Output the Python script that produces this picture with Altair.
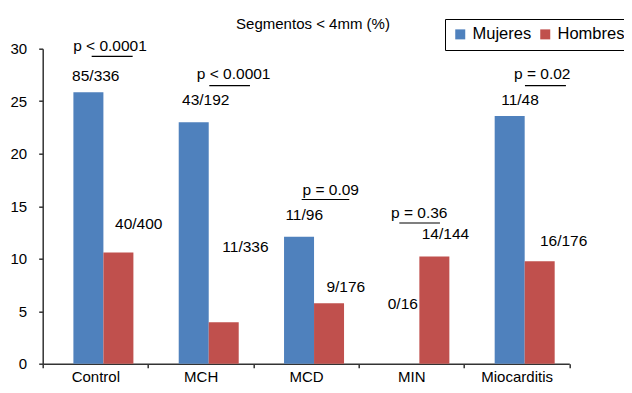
import altair as alt
import pandas as pd

# ---- data ----
categories = ["Control", "MCH", "MCD", "MIN", "Miocarditis"]
series = ["Mujeres", "Hombres"]
mujeres = [25.85, 23.0, 12.1, 0.0, 23.6]
hombres = [10.6, 3.95, 5.75, 10.2, 9.75]

# annotation texts and their places in data units
# (x in category units: 0..5, y in percent)
count_labels = ["85/336", "40/400", "43/192", "11/336", "11/96",
                "9/176", "0/16", "14/144", "11/48", "16/176"]
count_x = [0.504, 0.912, 1.548, 1.925, 2.483, 2.878, 3.419, 3.824, 4.532, 4.946]
count_y = [27.37, 13.3, 25.09, 11.09, 14.2, 7.3, 5.72, 12.36, 25.09, 11.66]

p_labels = ["p < 0.0001", "p < 0.0001", "p = 0.09", "p = 0.36", "p = 0.02"]
p_x = [0.639, 1.813, 2.735, 3.575, 4.743]
p_y = [30.3, 27.58, 16.56, 14.38, 27.58]
line_x1 = [0.465, 1.582, 2.459, 3.386, 4.579]
line_x2 = [0.854, 1.968, 2.911, 3.772, 4.968]
line_y = [29.26, 26.48, 15.64, 13.4, 26.48]

title_text = "Segmentos < 4mm (%)"

# ---- tables ----
bars = pd.DataFrame({
    "cat": categories * 2,
    "sexo": [series[0]] * 5 + [series[1]] * 5,
    "val": mujeres + hombres,
})
counts = pd.DataFrame({"t": count_labels, "x": count_x, "y": count_y})
pvals = pd.DataFrame({"t": p_labels, "x": p_x, "y": p_y})
lines = pd.DataFrame({"x": line_x1, "x2": line_x2, "y": line_y})

FONT = "Liberation Sans"
AX = "#333333"

yscale = alt.Scale(domain=[0, 30], nice=False, zero=True)
xq = alt.Scale(domain=[0, 5], nice=False, zero=False)

bar_layer = alt.Chart(bars).mark_bar().encode(
    x=alt.X("cat:N", sort=categories,
            scale=alt.Scale(paddingInner=0, paddingOuter=0),
            axis=alt.Axis(title=None, labelAngle=0, labelFontSize=15,
                          labelColor="black", labelFont=FONT,
                          tickBand="extent", tickSize=4, tickWidth=1.5,
                          tickColor=AX, domainColor=AX, domainWidth=1.5,
                          labelPadding=2, grid=False)),
    xOffset=alt.XOffset("sexo:N", sort=series,
                        scale=alt.Scale(domain=series, range=[30.7, 90.7],
                                        paddingInner=0, paddingOuter=0)),
    y=alt.Y("val:Q", scale=yscale,
            axis=alt.Axis(title=None, values=[0, 5, 10, 15, 20, 25, 30],
                          labelFontSize=15, labelColor="black", labelFont=FONT,
                          tickSize=4, tickWidth=1.5, tickColor=AX,
                          domainColor=AX, domainWidth=1.5,
                          labelPadding=12, grid=False)),
    color=alt.Color("sexo:N", sort=series,
                    scale=alt.Scale(domain=series, range=["#4F81BD", "#C0504D"]),
                    legend=alt.Legend(title=None, orient="none", direction="horizontal",
                                      legendX=402.3, legendY=-29.7,
                                      labelFontSize=16.5, labelFont=FONT,
                                      labelColor="black",
                                      symbolType="square", symbolSize=100,
                                      symbolStrokeWidth=0, symbolOpacity=1,
                                      strokeColor="black", fillColor="white",
                                      padding=7, labelOffset=4, columnPadding=5)),
)

count_layer = alt.Chart(counts).mark_text(
    fontSize=15.5, font=FONT, color="black", baseline="middle", align="center"
).encode(
    x=alt.X("x:Q", scale=xq, axis=None),
    y=alt.Y("y:Q", scale=yscale),
    text="t:N",
)

p_layer = alt.Chart(pvals).mark_text(
    fontSize=15.5, font=FONT, color="black", baseline="middle", align="center"
).encode(
    x=alt.X("x:Q", scale=xq, axis=None),
    y=alt.Y("y:Q", scale=yscale),
    text="t:N",
)

line_layer = alt.Chart(lines).mark_rule(color="black", strokeWidth=1.2).encode(
    x=alt.X("x:Q", scale=xq, axis=None),
    x2="x2:Q",
    y=alt.Y("y:Q", scale=yscale),
)

chart = alt.layer(bar_layer, count_layer, p_layer, line_layer).resolve_scale(
    x="independent", xOffset="independent"
).properties(
    width=526.6,
    height=315,
    title=alt.TitleParams(title_text, fontSize=15, font=FONT, fontWeight="normal",
                          color="black", anchor="middle", frame="group",
                          dx=7, offset=-13),
    autosize=alt.AutoSizeParams(type="none"),
    padding={"left": 34.7, "top": 40.7, "right": 54.7, "bottom": 21.3},
).configure_view(stroke=None)

chart.save("out.html", embed_options={"renderer": "svg", "actions": False})
